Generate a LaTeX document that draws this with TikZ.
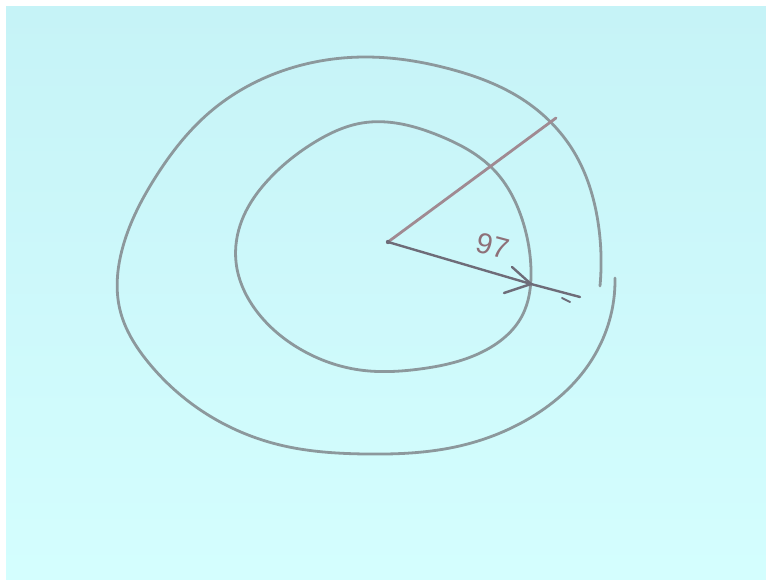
\documentclass[tikz,border=0pt]{standalone}
\usepackage{fontspec}
\setmainfont{Liberation Sans}
\usetikzlibrary{hobby}
\definecolor{bgtop}{HTML}{C6F3F7}
\definecolor{bgbot}{HTML}{D4FEFE}
\definecolor{pen}{HTML}{8C989C}
\definecolor{penpink}{HTML}{A08A92}
\definecolor{pendark}{HTML}{6E6C78}
\definecolor{inkpink}{HTML}{8E7078}
\tikzset{
  curve/.style={draw=pen, line width=2.8pt, line cap=round, line join=round},
  radial/.style={draw=penpink, line width=2.8pt, line cap=round},
  vect/.style={draw=pendark, line width=2.4pt, line cap=round},
  lbl/.style={text=inkpink, font=\fontsize{29}{29}\selectfont, inner sep=0pt}
}
\begin{document}
\begin{tikzpicture}[x=1pt,y=-1pt]
\useasboundingbox (0,0) rectangle (766,580);
\fill[white] (0,0) rectangle (766,580);
\shade[top color=bgtop, bottom color=bgbot] (6,7) rectangle (766,580);
% outer curve (open, with a small gap at the right)
\draw[curve, use Hobby shortcut] (600,286) .. (598,222) .. (574,152) ..
 (522,99) .. (450,69) .. (365,57) .. (282,71) .. (210,112) .. (155,178) ..
 (122,250) .. (120,310) .. (148,362) .. (205,413) .. (280,445) ..
 (365,454) .. (455,447) .. (530,418) .. (584,371) .. (609,322) .. (615,278);
% inner curve (closed)
\draw[curve, use Hobby shortcut, closed=true] (362,123) .. (440,136) ..
 (494,170) .. (523,222) .. (531,270) .. (522,316) .. (486,350) ..
 (420,369) .. (360,370) .. (300,349) .. (258,313) .. (236,262) ..
 (242,220) .. (270,178) .. (315,142);
\coordinate (O) at (388,242);
\coordinate (R) at (556,118);
\coordinate (T) at (531,284);
\coordinate (E) at (580,297);
\coordinate (B1) at (512,267);
\coordinate (B2) at (504,293);
\coordinate (K1) at (562,298);
\coordinate (K2) at (570,302);
\draw[radial] (O) -- (R);
\draw[vect] (O) -- (T) -- (E);
\draw[vect] (B1) -- (T) -- (B2);
\draw[vect, line width=2pt] (K1) -- (K2);
\fill[pendark] (O) circle (2.2pt);
\node[lbl, rotate=-15] (lab) at (493,246) {97};
\end{tikzpicture}
\end{document}
